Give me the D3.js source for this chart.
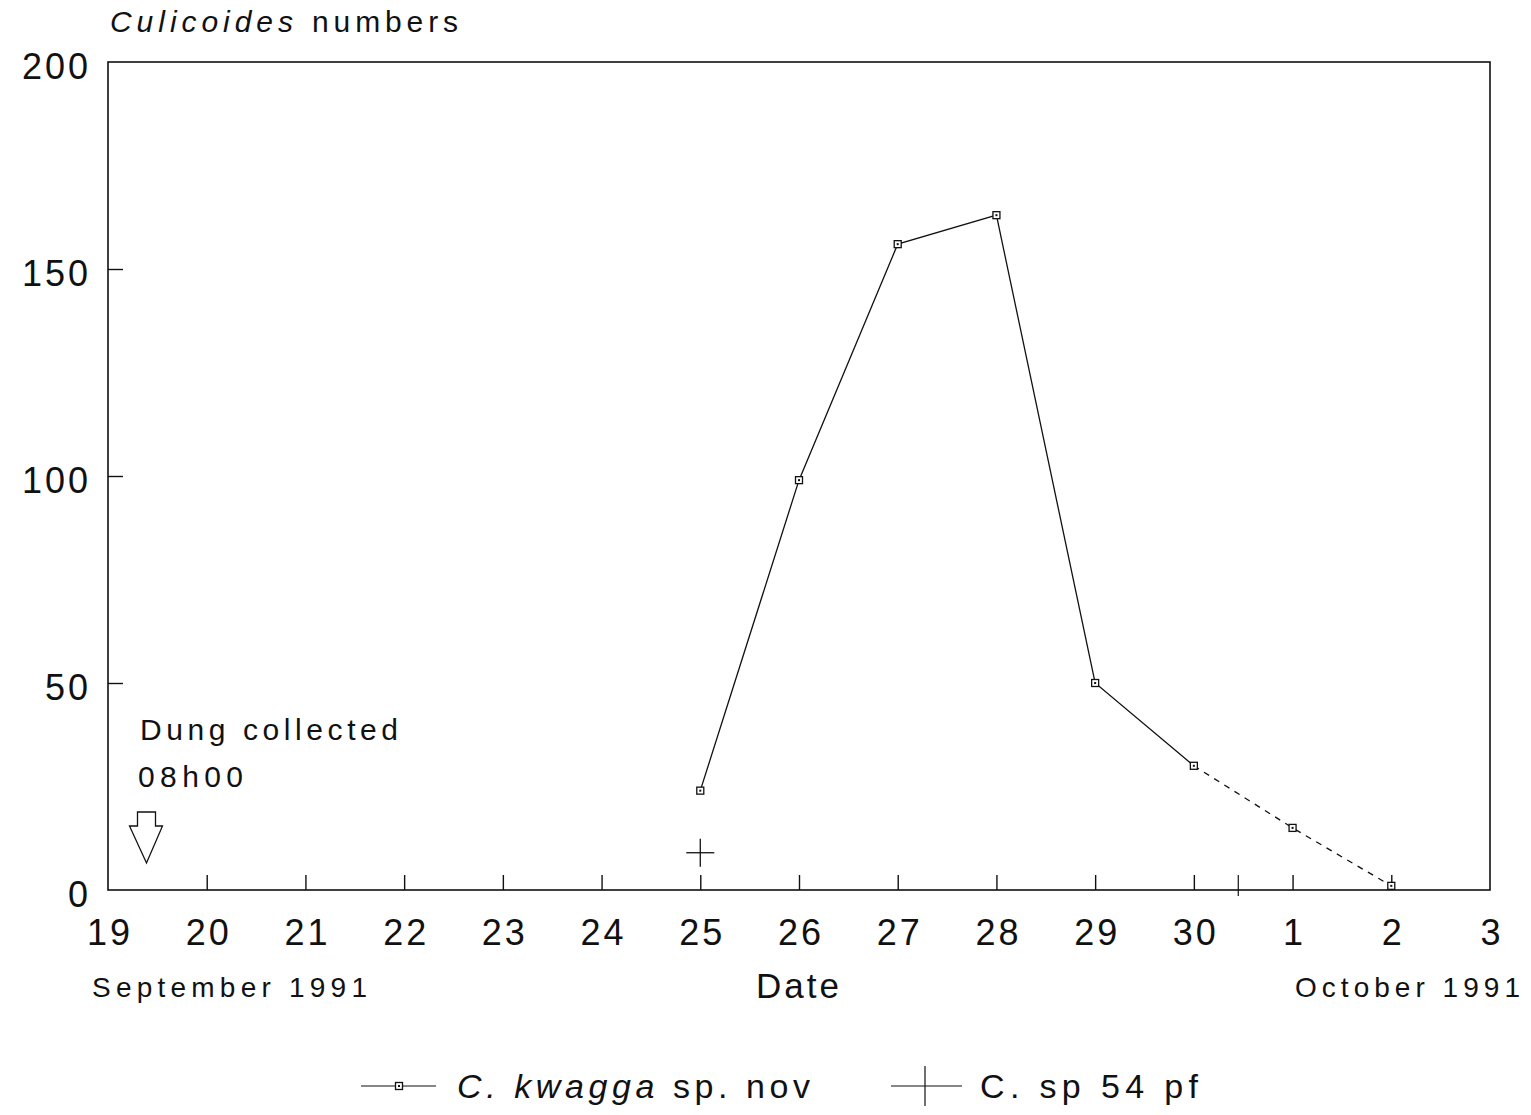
<!DOCTYPE html>
<html>
<head>
<meta charset="utf-8">
<script src="https://cdn.jsdelivr.net/npm/d3@7"></script>
<style>
  html, body { margin: 0; padding: 0; background: #fff; }
  svg { display: block; }
  text { font-family: "Liberation Sans", Arial, Helvetica, sans-serif; fill: #111; }
</style>
</head>
<body>
<svg id="chart" width="1531" height="1115"></svg>
<script>
// ---- data ----
const xTickLabels = ["19","20","21","22","23","24","25","26","27","28","29","30","1","2","3"];
const yTickValues = [0, 50, 100, 150, 200];
const kwaggaDays   = ["25","26","27","28","29","30","1","2"];
const kwaggaValues = [24, 99, 156, 163, 50, 30, 15, 1];
const kwaggaDashedFrom = "30";           // line is dashed from this date on
const sp54Days   = ["25"];
const sp54Values = [9];
const monthBreakPos = [11.45];          // extra tick between 30 Sep and 1 Oct
const arrowDayPos = 0.39;               // "Dung collected 08h00" arrow position
const seriesNames = ["C. kwagga sp. nov", "C. sp 54 pf"];

// ---- layout ----
const svg = d3.select("#chart");
svg.append("rect").attr("width", 1531).attr("height", 1115).attr("fill", "#fff");

const x = d3.scaleLinear().domain([0, xTickLabels.length - 1]).range([108, 1490]);
const y = d3.scaleLinear().domain([0, 200]).range([890, 62]);
const dayIdx = d => xTickLabels.indexOf(d);

const ink = "#111";

// frame
svg.append("rect")
  .attr("x", x(0)).attr("y", y(200))
  .attr("width", x(14) - x(0)).attr("height", y(0) - y(200))
  .attr("fill", "none").attr("stroke", ink).attr("stroke-width", 1.6);

// x axis
const xAxis = d3.axisBottom(x)
  .tickValues(d3.range(0, xTickLabels.length))
  .tickFormat(i => xTickLabels[i])
  .tickSizeInner(-15).tickSizeOuter(0).tickPadding(29);
const gx = svg.append("g").attr("transform", `translate(0,${y(0)})`).call(xAxis);
gx.select(".domain").remove();
gx.selectAll(".tick line").attr("stroke", ink).attr("stroke-width", 1.4)
  .filter((d, i) => i === 0 || i === xTickLabels.length - 1).remove();
gx.selectAll(".tick text")
  .attr("font-size", 36).attr("fill", ink)
  .style("letter-spacing", "3px").attr("dx", 1.5)
  .style("font-family", '"Liberation Sans", Arial, sans-serif');

// month break tick
svg.selectAll(".mbreak").data(monthBreakPos).enter().append("line")
  .attr("x1", d => x(d)).attr("x2", d => x(d))
  .attr("y1", y(0) - 15).attr("y2", y(0) + 6)
  .attr("stroke", ink).attr("stroke-width", 1.2);

// y axis
const yAxis = d3.axisLeft(y)
  .tickValues(yTickValues)
  .tickSizeInner(-15).tickSizeOuter(0).tickPadding(20);
const gy = svg.append("g").attr("transform", `translate(${x(0)},0)`).call(yAxis);
gy.select(".domain").remove();
gy.selectAll(".tick line").attr("stroke", ink).attr("stroke-width", 1.4)
  .filter(d => d === 0 || d === 200).remove();
gy.selectAll(".tick text")
  .attr("font-size", 36).attr("fill", ink)
  .style("letter-spacing", "3px").attr("dx", 3).attr("dy", "0.45em")
  .style("font-family", '"Liberation Sans", Arial, sans-serif');

// title
const title = svg.append("text").attr("x", 110).attr("y", 32).attr("font-size", 30);
title.append("tspan").attr("font-style", "italic").text("Culicoides")
  .attr("textLength", 183).attr("lengthAdjust", "spacing");
title.append("tspan").attr("x", 312).text("numbers")
  .attr("textLength", 146).attr("lengthAdjust", "spacing");

// axis texts
svg.append("text").attr("x", 756).attr("y", 998).attr("font-size", 35)
  .attr("textLength", 83).attr("lengthAdjust", "spacing").text("Date");
svg.append("text").attr("x", 92).attr("y", 997).attr("font-size", 28)
  .attr("textLength", 275).attr("lengthAdjust", "spacing").text("September 1991");
svg.append("text").attr("x", 1295).attr("y", 997).attr("font-size", 28)
  .attr("textLength", 225).attr("lengthAdjust", "spacing").text("October 1991");

// annotation
svg.append("text").attr("x", 140).attr("y", 740).attr("font-size", 30)
  .attr("textLength", 258).attr("lengthAdjust", "spacing").text("Dung collected");
svg.append("text").attr("x", 138).attr("y", 787).attr("font-size", 30)
  .attr("textLength", 105).attr("lengthAdjust", "spacing").text("08h00");

// arrow
const ax = x(arrowDayPos);
const arrowPts = [
  [ax - 9, 812], [ax + 9, 812], [ax + 9, 826], [ax + 16, 826],
  [ax, 863], [ax - 17, 826], [ax - 9, 826]
];
svg.append("path").attr("d", d3.line()(arrowPts) + "Z")
  .attr("fill", "#fff").attr("stroke", ink).attr("stroke-width", 1.3)
  .attr("stroke-linejoin", "miter");

// series: C. kwagga
const kw = kwaggaDays.map((d, i) => ({ xi: dayIdx(d), v: kwaggaValues[i], d }));
const splitAt = kwaggaDays.indexOf(kwaggaDashedFrom);
const line = d3.line().x(p => x(p.xi)).y(p => y(p.v));
svg.append("path").datum(kw.slice(0, splitAt + 1)).attr("d", line)
  .attr("fill", "none").attr("stroke", ink).attr("stroke-width", 1.3);
svg.append("path").datum(kw.slice(splitAt)).attr("d", line)
  .attr("fill", "none").attr("stroke", ink).attr("stroke-width", 1.3)
  .attr("stroke-dasharray", "6,6");

function squareMarker(g, cx, cy) {
  g.append("rect").attr("x", cx - 3.5).attr("y", cy - 3.5)
    .attr("width", 7).attr("height", 7)
    .attr("fill", "#fff").attr("stroke", ink).attr("stroke-width", 1.3);
  g.append("rect").attr("x", cx - 1).attr("y", cy - 1).attr("width", 2).attr("height", 2)
    .attr("fill", ink);
}
const mk = svg.append("g");
kw.forEach(p => squareMarker(mk, x(p.xi), y(p.v)));

// series: C. sp 54 pf (cross markers)
function crossMarker(g, cx, cy) {
  g.append("line").attr("x1", cx - 14).attr("x2", cx + 14).attr("y1", cy).attr("y2", cy)
    .attr("stroke", ink).attr("stroke-width", 1.3);
  g.append("line").attr("x1", cx).attr("x2", cx).attr("y1", cy - 14).attr("y2", cy + 14)
    .attr("stroke", ink).attr("stroke-width", 1.3);
}
const cm = svg.append("g");
sp54Days.forEach((d, i) => crossMarker(cm, x(dayIdx(d)), y(sp54Values[i])));

// legend
const ly = 1086;
const lg = svg.append("g");
lg.append("line").attr("x1", 361).attr("x2", 436).attr("y1", ly).attr("y2", ly)
  .attr("stroke", ink).attr("stroke-width", 1.2);
squareMarker(lg, 399, ly);
const t1 = lg.append("text").attr("x", 457).attr("y", 1098).attr("font-size", 34)
  .attr("textLength", 353).attr("lengthAdjust", "spacing");
t1.append("tspan").attr("font-style", "italic").text("C. kwagga");
t1.append("tspan").text(" sp. nov");

lg.append("line").attr("x1", 891).attr("x2", 962).attr("y1", ly).attr("y2", ly)
  .attr("stroke", ink).attr("stroke-width", 1.2);
lg.append("line").attr("x1", 925).attr("x2", 925).attr("y1", ly - 20).attr("y2", ly + 20)
  .attr("stroke", ink).attr("stroke-width", 1.2);
lg.append("text").attr("x", 980).attr("y", 1098).attr("font-size", 34)
  .attr("textLength", 218).attr("lengthAdjust", "spacing").text(seriesNames[1]);
</script>
</body>
</html>
